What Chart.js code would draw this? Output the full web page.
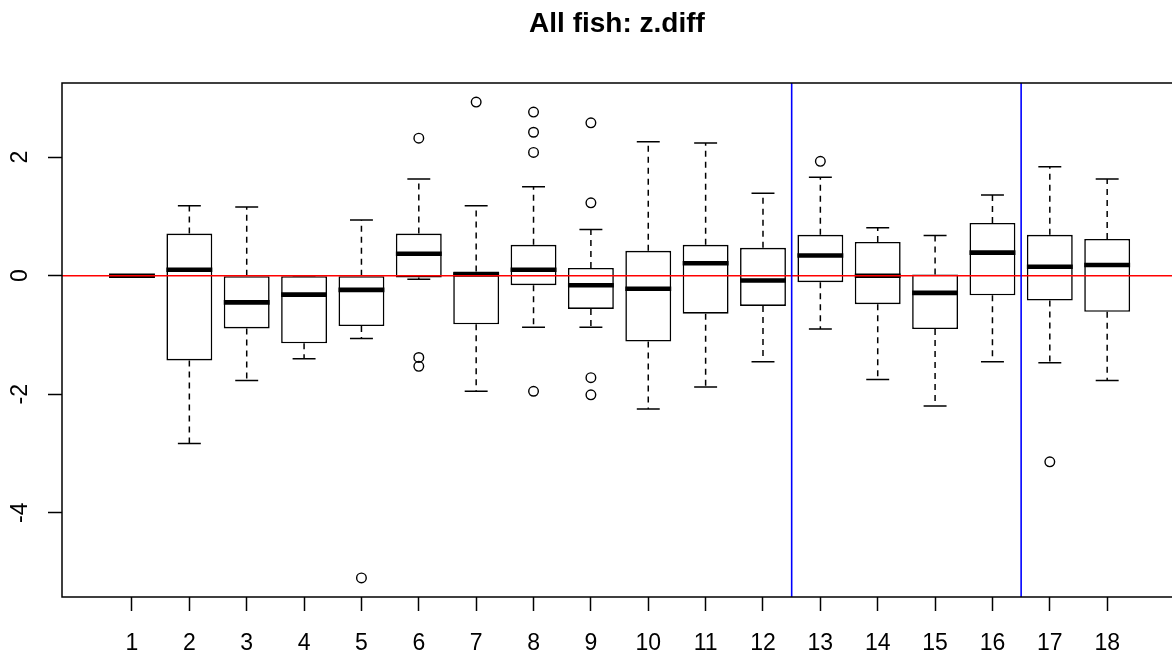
<!DOCTYPE html>
<html>
<head>
<meta charset="utf-8">
<title>All fish: z.diff</title>
<script src="https://cdn.jsdelivr.net/npm/chart.js@4.4.1/dist/chart.umd.min.js"></script>
<style>
  html, body { margin: 0; padding: 0; overflow: hidden; background: #ffffff; }
  #chart { display: block; }
</style>
</head>
<body>
<canvas id="chart" width="1172" height="654"></canvas>
<script>
// Groups along the x axis
const categories = [1, 2, 3, 4, 5, 6, 7, 8, 9, 10, 11, 12, 13, 14, 15, 16, 17, 18];

// Five-number summaries per group
const whiskerLow  = [0.00, -2.83, -1.77, -1.40, -1.06, -0.06, -1.95, -0.87, -0.87, -2.25, -1.88, -1.45, -0.90, -1.75, -2.20, -1.45, -1.47, -1.77];
const lowerQuart  = [-0.02, -1.43, -0.89, -1.14, -0.85, -0.03, -0.82, -0.16, -0.56, -1.11, -0.64, -0.51, -0.11, -0.48, -0.90, -0.33, -0.42, -0.61];
const medians     = [0.00, 0.10, -0.45, -0.32, -0.24, 0.37, 0.02, 0.10, -0.16, -0.22, 0.21, -0.08, 0.34, 0.00, -0.29, 0.39, 0.15, 0.18];
const upperQuart  = [0.02, 0.71, 0.00, 0.00, 0.00, 0.71, 0.07, 0.52, 0.13, 0.42, 0.52, 0.47, 0.69, 0.57, 0.02, 0.89, 0.69, 0.62];
const whiskerHigh = [0.00, 1.18, 1.16, 0.00, 0.94, 1.63, 1.18, 1.50, 0.78, 2.26, 2.24, 1.39, 1.66, 0.81, 0.68, 1.36, 1.84, 1.63];

// Points beyond the whiskers
const outlierGroup = [5, 6, 6, 6, 7, 8, 8, 8, 8, 9, 9, 9, 9, 13, 17];
const outlierValue = [-5.10, 2.32, -1.38, -1.53, 2.93, 2.76, 2.42, 2.08, -1.95, 2.58, 1.23, -1.72, -2.01, 1.93, -3.14];

// Axis tick labels
const xTickValues = categories;
const yTickValues = [-4, -2, 0, 2];

// Reference lines
const referenceLevel = [0];
const groupBreaks = [12.5, 16.5];

const FONT = "'Liberation Sans', Arial, Helvetica, sans-serif";

// Axis limits: groups padded by half a slot plus 4 %; the panel is cut
// slightly short on the right, so only part of the last margin is shown
const nGroups = categories.length;
const xMin = 0.5 - 0.04 * nGroups;
const xMax = nGroups + 0.5 + 0.04 * nGroups;
const xShownMax = xMax - 0.09;
const allValues = whiskerLow.concat(whiskerHigh, outlierValue);
const dataLo = Math.min(...allValues);
const dataHi = Math.max(...allValues);
const yPad = (dataHi - dataLo) * 0.04;
const yMin = dataLo - yPad;
const yMax = dataHi + yPad;

// Whiskers (dashed stems + staples) under the boxes, medians on top of them
const boxParts = {
  id: 'boxParts',
  beforeDatasetDraw(chart, args) {
    if (args.index !== 0) return;
    const { ctx, scales: { x, y } } = chart;
    const meta = chart.getDatasetMeta(0);
    ctx.save();
    ctx.strokeStyle = '#000000';
    ctx.lineWidth = 1.5;
    ctx.lineCap = 'butt';
    categories.forEach((c, i) => {
      const px = x.getPixelForValue(c);
      const staple = meta.data[i].width / 4;
      const yHi = y.getPixelForValue(whiskerHigh[i]);
      const yLo = y.getPixelForValue(whiskerLow[i]);
      const yQ3 = y.getPixelForValue(upperQuart[i]);
      const yQ1 = y.getPixelForValue(lowerQuart[i]);
      ctx.setLineDash([6, 5]);
      ctx.beginPath();
      ctx.moveTo(px, yQ3); ctx.lineTo(px, yHi);
      ctx.moveTo(px, yQ1); ctx.lineTo(px, yLo);
      ctx.stroke();
      ctx.setLineDash([]);
      ctx.beginPath();
      ctx.moveTo(px - staple, yHi); ctx.lineTo(px + staple, yHi);
      ctx.moveTo(px - staple, yLo); ctx.lineTo(px + staple, yLo);
      ctx.stroke();
    });
    ctx.restore();
  },
  afterDatasetDraw(chart, args) {
    if (args.index !== 0) return;
    const { ctx, scales: { x, y } } = chart;
    const meta = chart.getDatasetMeta(0);
    ctx.save();
    ctx.strokeStyle = '#000000';
    ctx.lineWidth = 4.6;
    ctx.lineCap = 'butt';
    categories.forEach((c, i) => {
      const px = x.getPixelForValue(c);
      const half = meta.data[i].width / 2;
      const py = y.getPixelForValue(medians[i]);
      ctx.beginPath();
      ctx.moveTo(px - half, py);
      ctx.lineTo(px + half, py);
      ctx.stroke();
    });
    ctx.restore();
  }
};

// Frame on the left, top and bottom of the plotting region (the right side is cut off)
const plotFrame = {
  id: 'plotFrame',
  afterDraw(chart) {
    const { ctx, chartArea: a } = chart;
    ctx.save();
    ctx.strokeStyle = '#000000';
    ctx.lineWidth = 1.5;
    ctx.beginPath();
    ctx.moveTo(a.right + 2, a.top);
    ctx.lineTo(a.left, a.top);
    ctx.lineTo(a.left, a.bottom);
    ctx.lineTo(a.right + 2, a.bottom);
    ctx.stroke();
    ctx.restore();
  }
};

const datasets = [
  {
    type: 'bar',
    label: 'boxes',
    data: categories.map((c, i) => ({ x: c, y: [lowerQuart[i], upperQuart[i]] })),
    backgroundColor: '#ffffff',
    borderColor: '#000000',
    borderWidth: 1.6,
    borderSkipped: false,
    categoryPercentage: 1.0,
    barPercentage: 0.8,
    order: 5
  },
  {
    type: 'scatter',
    label: 'outliers',
    data: outlierGroup.map((g, k) => ({ x: g, y: outlierValue[k] })),
    pointStyle: 'circle',
    pointRadius: 4.8,
    pointBorderWidth: 1.4,
    borderColor: '#000000',
    backgroundColor: 'rgba(0,0,0,0)',
    order: 4
  },
  {
    type: 'line',
    label: 'reference',
    data: [{ x: xMin - 1, y: referenceLevel[0] }, { x: xMax + 1, y: referenceLevel[0] }],
    borderColor: '#ff0000',
    borderWidth: 1.6,
    pointRadius: 0,
    order: 3
  }
].concat(groupBreaks.map((b, k) => ({
  type: 'line',
  label: 'break ' + (k + 1),
  data: [{ x: b, y: yMin - 1 }, { x: b, y: yMax + 1 }],
  borderColor: '#0000ff',
  borderWidth: 1.6,
  pointRadius: 0,
  order: 2 - k
})));

new Chart(document.getElementById('chart'), {
  type: 'bar',
  data: { datasets },
  plugins: [boxParts, plotFrame],
  options: {
    responsive: false,
    maintainAspectRatio: false,
    devicePixelRatio: 1,
    animation: false,
    events: [],
    layout: { padding: 0, autoPadding: false },
    plugins: {
      legend: { display: false },
      tooltip: { enabled: false },
      title: {
        display: true,
        text: 'All fish: z.diff',
        color: '#000000',
        fullSize: false,
        align: 'center',
        font: { family: FONT, size: 28, weight: 'bold' },
        padding: { top: 7, bottom: 42.4 }
      }
    },
    scales: {
      x: {
        type: 'linear',
        min: xMin,
        max: xShownMax,
        offset: false,
        afterBuildTicks: s => { s.ticks = xTickValues.map(v => ({ value: v })); },
        afterFit: s => { s.height = 57; s.paddingLeft = 0; s.paddingRight = 0; },
        ticks: {
          autoSkip: false,
          minRotation: 0,
          maxRotation: 0,
          padding: 19,
          color: '#000000',
          font: { family: FONT, size: 23 },
          callback: v => String(v)
        },
        grid: {
          display: true,
          offset: false,
          drawOnChartArea: false,
          drawTicks: true,
          tickLength: 14,
          tickWidth: 1.5,
          color: '#000000'
        },
        border: { display: false }
      },
      y: {
        type: 'linear',
        min: yMin,
        max: yMax,
        afterBuildTicks: s => { s.ticks = yTickValues.map(v => ({ value: v })); },
        afterFit: s => { s.width = 62; },
        ticks: {
          minRotation: 90,
          maxRotation: 90,
          crossAlign: 'center',
          padding: 17,
          color: '#000000',
          font: { family: FONT, size: 23 },
          callback: v => String(v)
        },
        grid: {
          display: true,
          drawOnChartArea: false,
          drawTicks: true,
          tickLength: 14,
          tickWidth: 1.5,
          color: '#000000'
        },
        border: { display: false }
      }
    }
  }
});
</script>
</body>
</html>
